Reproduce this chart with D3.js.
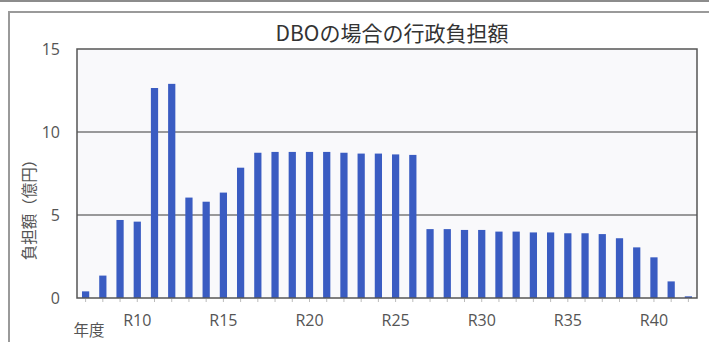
<!DOCTYPE html>
<html><head><meta charset="utf-8">
<script src="https://cdn.jsdelivr.net/npm/d3@7"></script>
<style>
html,body{margin:0;padding:0;background:#fff;}
svg{display:block;font-family:"Noto Sans CJK JP","Noto Sans",sans-serif;}
</style></head>
<body>
<script>
const categories = ["R7","R8","R9","R10","R11","R12","R13","R14","R15","R16","R17","R18","R19","R20","R21","R22","R23","R24","R25","R26","R27","R28","R29","R30","R31","R32","R33","R34","R35","R36","R37","R38","R39","R40","R41","R42"];
const values = [0.4,1.35,4.7,4.6,12.65,12.9,6.05,5.8,6.35,7.85,8.75,8.8,8.8,8.8,8.8,8.75,8.7,8.7,8.65,8.62,4.15,4.15,4.1,4.1,4.0,4.0,3.95,3.95,3.9,3.9,3.85,3.6,3.05,2.45,1.0,0.1];
const xTickLabels = ["R10","R15","R20","R25","R30","R35","R40"];
const yTicks = [0,5,10,15];
const title = "DBOの場合の行政負担額";
const yTitle = "負担額（億円）";
const xTitle = "年度";

const W = 709, H = 342;
const m = {left:77, right:697, top:49, bottom:298};
const svg = d3.select("body").append("svg").attr("width",W).attr("height",H);

// outer frames
svg.append("line").attr("x1",0).attr("x2",W).attr("y1",1).attr("y2",1).attr("stroke","#8c8c8c").attr("stroke-width",2);
svg.append("rect").attr("x",9).attr("y",12).attr("width",W+10).attr("height",H+10)
  .attr("fill","#fff").attr("stroke","#9a9a9a").attr("stroke-width",2);

const x = d3.scaleBand().domain(categories).range([m.left,m.right]).paddingInner(0.58).paddingOuter(0.29);
const y = d3.scaleLinear().domain([0,15]).range([m.bottom,m.top]);

// plot background
svg.append("rect").attr("x",m.left).attr("y",m.top).attr("width",m.right-m.left).attr("height",m.bottom-m.top)
  .attr("fill","#f9f9fb");

// gridlines
svg.append("g").selectAll("line").data(yTicks.filter(d=>d>0&&d<15)).join("line")
  .attr("x1",m.left).attr("x2",m.right).attr("y1",d=>y(d)).attr("y2",d=>y(d))
  .attr("stroke","#3a3a3a").attr("stroke-width",1.2);

// bars
svg.append("g").selectAll("rect").data(values).join("rect")
  .attr("x",(d,i)=>x(categories[i]))
  .attr("width",x.bandwidth())
  .attr("y",d=>y(d))
  .attr("height",d=>y(0)-y(d))
  .attr("fill","#3a5cc2");

// plot border
svg.append("rect").attr("x",m.left).attr("y",m.top).attr("width",m.right-m.left).attr("height",m.bottom-m.top)
  .attr("fill","none").attr("stroke","#555").attr("stroke-width",1.5);

// y axis
const yAxis = d3.axisLeft(y).tickValues(yTicks).tickSize(0).tickPadding(17);
const gy = svg.append("g").attr("transform",`translate(${m.left},0)`).call(yAxis);
gy.select(".domain").remove();
gy.selectAll("text").attr("fill","#555").style("font-size","16px").style("font-family","'Open Sans','Noto Sans',sans-serif");

// x axis
const xAxis = d3.axisBottom(x).tickValues(xTickLabels).tickSize(0).tickPadding(17);
const gx = svg.append("g").attr("transform",`translate(0,${m.bottom})`).call(xAxis);
gx.select(".domain").remove();
gx.selectAll("text").attr("fill","#555").style("font-size","16px").style("font-family","'Open Sans','Noto Sans',sans-serif");

// small category ticks
svg.append("g").selectAll("line").data(categories).join("line")
  .attr("x1",d=>x(d)+x.bandwidth()/2).attr("x2",d=>x(d)+x.bandwidth()/2)
  .attr("y1",m.bottom+1).attr("y2",m.bottom+4)
  .attr("stroke","#bbb").attr("stroke-width",1);

// title
svg.append("text").attr("x",392).attr("y",41).attr("text-anchor","middle")
  .attr("fill","#333").style("font-size","21px").text(title);

// y title
svg.append("text").attr("transform","translate(35,206) rotate(-90)").attr("text-anchor","middle")
  .attr("fill","#555").style("font-size","15.5px").text(yTitle);

// x title
svg.append("text").attr("x",89).attr("y",336).attr("text-anchor","middle")
  .attr("fill","#555").style("font-size","15.5px").text(xTitle);
</script>
</body></html>
